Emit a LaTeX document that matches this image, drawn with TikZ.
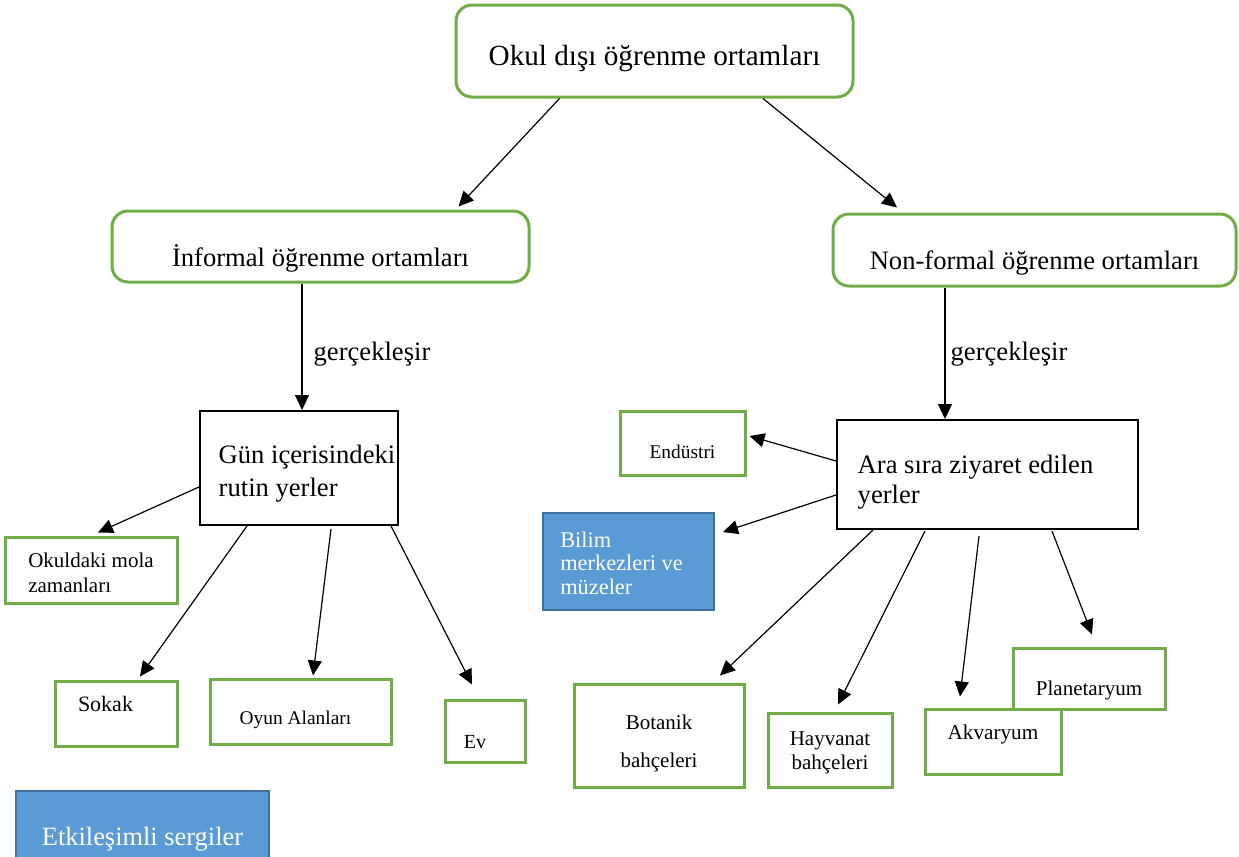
\documentclass[tikz,border=0pt]{standalone}
\usepackage{fontspec}
\setmainfont{Liberation Serif}
\usetikzlibrary{arrows.meta,calc}

\definecolor{kutuyesil}{HTML}{70AD47}
\definecolor{kutumavi}{HTML}{5B9BD5}
\definecolor{mavikenar}{HTML}{41719C}

\tikzset{
    anakutu/.style={draw=kutuyesil, line width=1.5pt, rounded corners=8pt, fill=white, inner sep=0pt},
    yesilkutu/.style={draw=kutuyesil, line width=1.5pt, fill=white, inner sep=0pt},
    yerkutu/.style={draw=black, line width=1pt, fill=white, align=left, inner sep=0pt},
    mavikutu/.style={draw=mavikenar, line width=1pt, fill=kutumavi, text=white, inner sep=0pt},
    ok/.style={-{Triangle[length=7.5pt,width=7pt]}, line width=0.6pt},
    txtdown/.style={text height=#1, text depth=0pt},
    txtup/.style={text height=0pt, text depth=#1},
}

\begin{document}
\begin{tikzpicture}[x=0.5pt, y=-0.5pt]
    \useasboundingbox (0,0) rectangle (1239,857);
    \clip (0,0) rectangle (1239,857);

    % ust seviye
    \node[anakutu, minimum width=198.5pt, minimum height=46pt, txtdown=14.7pt, font=\fontsize{14.6}{17}\selectfont]
        (okuldisi) at (654.5,51) {Okul dışı öğrenme ortamları};
    \node[anakutu, minimum width=208.5pt, minimum height=35.5pt, txtdown=20.4pt, font=\fontsize{13.3}{16}\selectfont]
        (informal) at (320.5,246.5) {İnformal öğrenme ortamları};
    \node[anakutu, minimum width=201.5pt, minimum height=36pt, txtdown=19.9pt, font=\fontsize{13.3}{16}\selectfont]
        (nonformal) at (1034.5,250) {Non-formal öğrenme ortamları};

    % yer kutulari
    \node[yerkutu, minimum width=99pt, minimum height=57pt, font=\fontsize{13.3}{16.5}\selectfont]
        (gunici) at (299,468) {\hspace*{8pt}\rule{0pt}{15pt}Gün içerisindeki\\\hspace*{8pt}rutin yerler};
    \node[yerkutu, minimum width=150.5pt, minimum height=54.5pt, font=\fontsize{13.3}{15}\selectfont]
        (arasira) at (987.5,474.5) {\rule{0pt}{16.5pt}Ara sıra ziyaret edilen\hspace*{12pt}\\yerler};

    % informal taraf
    \node[yesilkutu, align=left, minimum width=86pt, minimum height=33pt, font=\fontsize{10.5}{12.5}\selectfont]
        (mola) at (91,570) {\rule{0pt}{10.5pt}Okuldaki mola\\zamanları};
    \node[yesilkutu, minimum width=61pt, minimum height=32.5pt, txtup=2.5pt, font=\fontsize{11}{13}\selectfont]
        (sokak) at (116,713.5) {Sokak\hspace*{10.5pt}};
    \node[yesilkutu, minimum width=90.5pt, minimum height=32.5pt, txtdown=13pt, font=\fontsize{9.7}{12}\selectfont]
        (oyun) at (300.5,711.5) {Oyun Alanları\hspace*{5pt}};
    \node[yesilkutu, minimum width=40pt, minimum height=31pt, txtdown=17.6pt, font=\fontsize{10}{12}\selectfont]
        (ev) at (485,731) {Ev\hspace*{10pt}};
    \node[mavikutu, minimum width=126.5pt, minimum height=44.5pt, txtdown=9.5pt, font=\fontsize{13.2}{16}\selectfont]
        (sergi) at (142.5,835.5) {Etkileşimli sergiler};

    % non-formal taraf
    \node[yesilkutu, minimum width=62.5pt, minimum height=32pt, txtdown=15.4pt, font=\fontsize{9.7}{12}\selectfont]
        (endustri) at (682.5,443) {Endüstri};
    \node[mavikutu, align=left, minimum width=85.5pt, minimum height=48.5pt, font=\fontsize{11.2}{11.75}\selectfont]
        (bilim) at (628.5,561.5) {\rule{0pt}{9.5pt}Bilim\\merkezleri ve\rule{7pt}{0pt}\\müzeler};
    \node[yesilkutu, align=center, minimum width=85pt, minimum height=51.5pt, font=\fontsize{10.5}{19}\selectfont]
        (botanik) at (659,735.5) {\rule{0pt}{15pt}Botanik\\bahçeleri};
    \node[yesilkutu, align=center, minimum width=62pt, minimum height=37pt, font=\fontsize{10.5}{12}\selectfont]
        (hayvanat) at (830,750) {\rule{0pt}{10pt}Hayvanat\\bahçeleri};
    \node[yesilkutu, minimum width=76pt, minimum height=30.5pt, txtdown=16.8pt, font=\fontsize{10.5}{12}\selectfont]
        (planet) at (1089,678.5) {Planetaryum};
    \node[yesilkutu, minimum width=68pt, minimum height=32.5pt, txtup=1.8pt, font=\fontsize{10.6}{12}\selectfont]
        (akvaryum) at (993,741.5) {Akvaryum};

    % oklar
    \draw[ok] ($(okuldisi.south)+(-95,0)$) -- ($(informal.north)+(138,-3)$);
    \draw[ok] ($(okuldisi.south)+(108.5,0)$) -- ($(nonformal.north)+(-137.5,-5)$);

    \draw[ok] ($(informal.south)+(-18.5,0)$) coordinate (g1) -- (g1 |- gunici.north)
        node[pos=0.56, right=2.2pt, font=\fontsize{13.3}{16}\selectfont] {gerçekleşir};
    \draw[ok] ($(nonformal.south)+(-89.5,0)$) coordinate (g2) -- (g2 |- arasira.north)
        node[pos=0.51, right=-0.8pt, font=\fontsize{13.3}{16}\selectfont] {gerçekleşir};

    \draw[ok] ($(gunici.west)+(0,19)$) -- ($(mola.north)+(7,-3)$);
    \draw[ok] ($(gunici.south)+(-52,0)$) -- ($(sokak.north)+(24,-3)$);
    \draw[ok] ($(gunici.south)+(32,3)$) -- ($(oyun.north)+(12.5,-2)$);
    \draw[ok] ($(gunici.south)+(92,0)$) -- ($(ev.north)+(-13,-14)$);

    \draw[ok] ($(arasira.west)+(0,-13.5)$) -- ($(endustri.east)+(3,-7)$);
    \draw[ok] ($(arasira.west)+(0,20.5)$) -- ($(bilim.north east)+(8,20)$);
    \draw[ok] ($(arasira.south)+(-114.5,0)$) -- ($(botanik.north)+(61,-7)$);
    \draw[ok] ($(arasira.south)+(-62.5,1)$) -- ($(hayvanat.north)+(8,-7)$);
    \draw[ok] ($(arasira.south)+(-8.5,6)$) -- ($(akvaryum.north)+(-33,-11)$);
    \draw[ok] ($(arasira.south)+(64.5,1)$) -- ($(planet.north)+(3,-12)$);
\end{tikzpicture}
\end{document}
